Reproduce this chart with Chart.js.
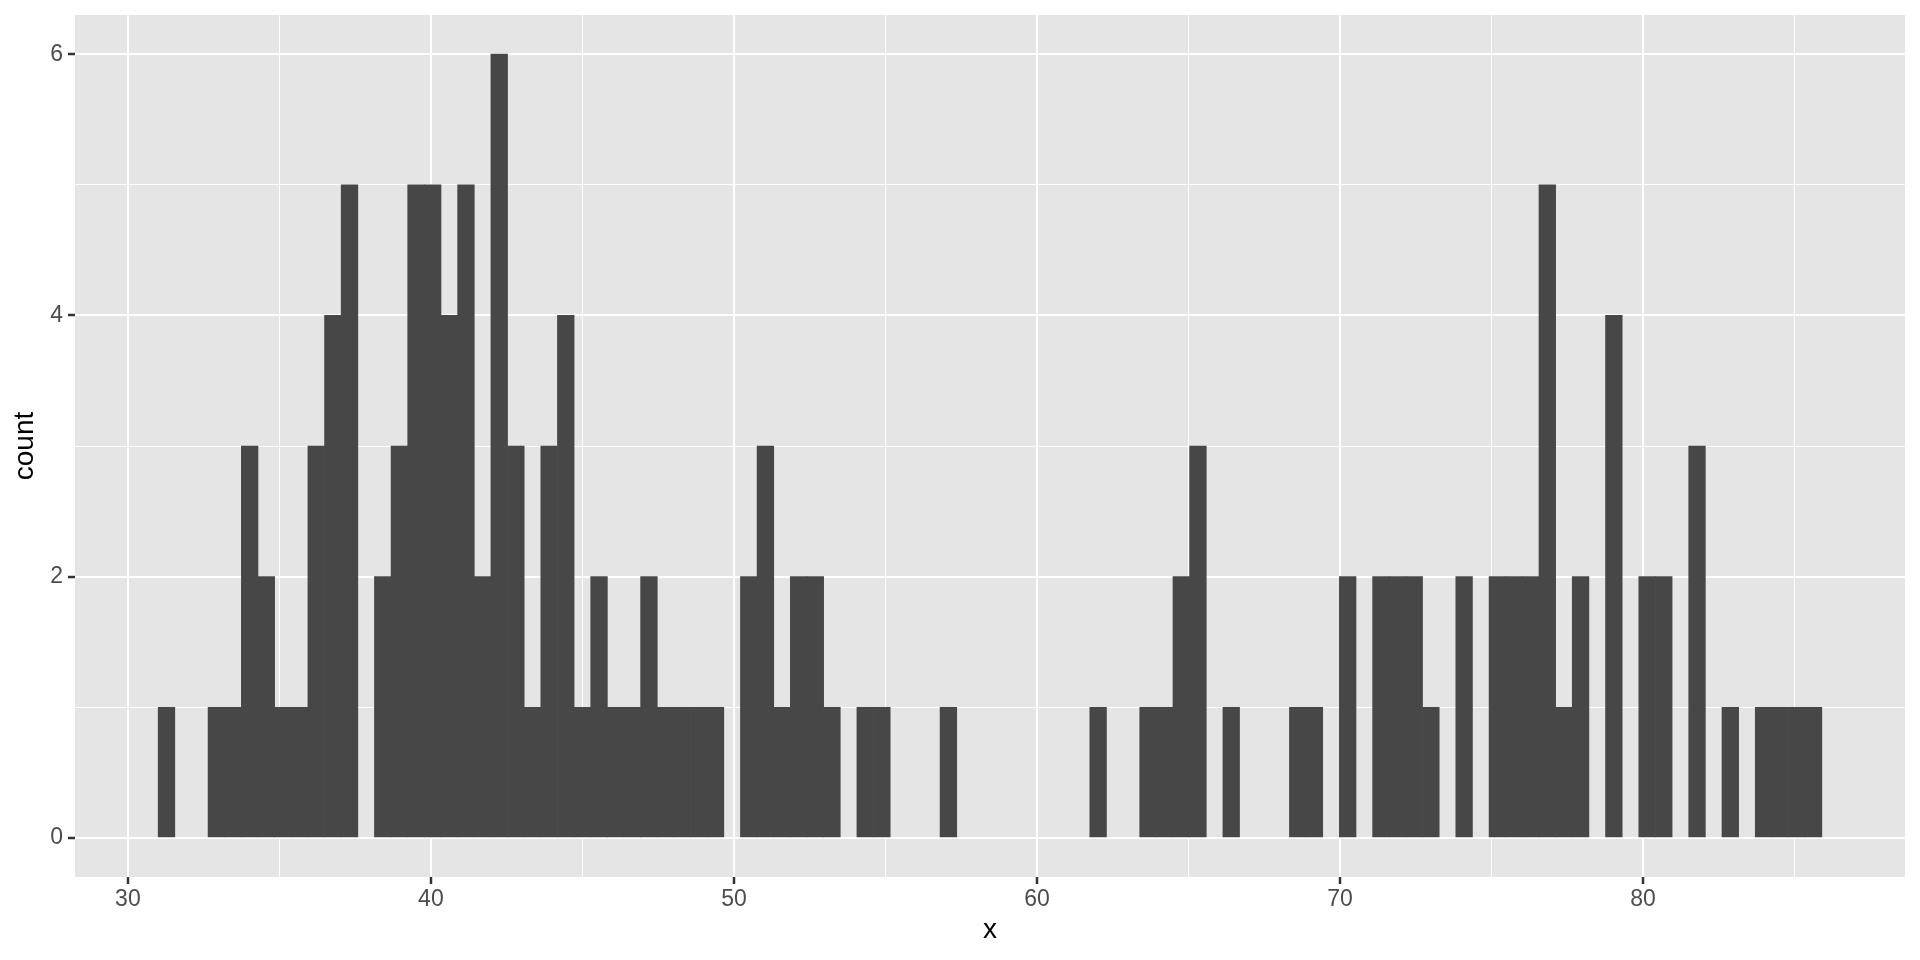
<!DOCTYPE html>
<html>
<head>
<meta charset="utf-8">
<script src="https://cdn.jsdelivr.net/npm/chart.js@4/dist/chart.umd.min.js"></script>
<style>
  html, body { margin: 0; padding: 0; background: #ffffff; }
  canvas { display: block; }
</style>
</head>
<body>
<canvas id="histChart" width="1920" height="960"></canvas>
<script>
// Histogram bins: left edge of the first bin and bin width (x units)
const binStart = 31.0;
const binWidth = 0.549;

// Counts per bin (100 bins)
const counts = [
  1, 0, 0, 1, 1, 3, 2, 1, 1, 3,
  4, 5, 0, 2, 3, 5, 5, 4, 5, 2,
  6, 3, 1, 3, 4, 1, 2, 1, 1, 2,
  1, 1, 1, 1, 0, 2, 3, 1, 2, 2,
  1, 0, 1, 1, 0, 0, 0, 1, 0, 0,
  0, 0, 0, 0, 0, 0, 1, 0, 0, 1,
  1, 2, 3, 0, 1, 0, 0, 0, 1, 1,
  0, 2, 0, 2, 2, 2, 1, 0, 2, 0,
  2, 2, 2, 5, 1, 2, 0, 4, 0, 2,
  2, 0, 3, 0, 1, 0, 1, 1, 1, 1
];

// Axis ticks: major ones get labels, minor ones only a grid line
const xMajorTicks = [30, 40, 50, 60, 70, 80];
const xMinorTicks = [35, 45, 55, 65, 75, 85];
const yMajorTicks = [0, 2, 4, 6];
const yMinorTicks = [1, 3, 5];

const xLimits = [28.255, 88.645];
const yLimits = [-0.3, 6.3];

const panelBg = '#E5E5E5';
const barColor = '#474747';

// bar data: one point per bin, placed at the bin centre
const barData = counts.map((c, i) => ({ x: binStart + (i + 0.5) * binWidth, y: c }));

const tickFont = { family: '"Liberation Sans", Arial, sans-serif', size: 23 };
const titleFont = { family: '"Liberation Sans", Arial, sans-serif', size: 28, lineHeight: 1 };

function isMajor(list, v) {
  return list.some(t => Math.abs(t - v) < 1e-9);
}

// grey panel behind the grid
const panelBackground = {
  id: 'panelBackground',
  beforeDraw(chart) {
    const { ctx, chartArea } = chart;
    ctx.save();
    ctx.fillStyle = panelBg;
    ctx.fillRect(chartArea.left, chartArea.top, chartArea.right - chartArea.left, chartArea.bottom - chartArea.top);
    ctx.restore();
  }
};

new Chart(document.getElementById('histChart'), {
  type: 'bar',
  data: {
    datasets: [{
      data: barData,
      // empty bins stay invisible
      backgroundColor: ctx => (ctx.raw && ctx.raw.y > 0) ? barColor : 'rgba(0,0,0,0)',
      borderWidth: 0,
      barPercentage: 1,
      categoryPercentage: 1
    }]
  },
  options: {
    responsive: false,
    animation: false,
    events: [],
    layout: { padding: { top: 15, right: 15, bottom: 0, left: 0 } },
    plugins: {
      legend: { display: false },
      tooltip: { enabled: false }
    },
    scales: {
      x: {
        type: 'linear',
        offset: false,
        min: xLimits[0],
        max: xLimits[1],
        afterBuildTicks: scale => {
          scale.ticks = xMajorTicks.concat(xMinorTicks).sort((a, b) => a - b).map(v => ({ value: v }));
        },
        afterFit: scale => {
          scale.height = 83;
          scale.paddingLeft = 0;
          scale.paddingRight = 0;
        },
        border: { display: false },
        grid: {
          offset: false,
          color: '#ffffff',
          lineWidth: ctx => isMajor(xMajorTicks, ctx.tick.value) ? 2 : 1,
          tickLength: 7,
          tickWidth: 2.5,
          tickColor: ctx => isMajor(xMajorTicks, ctx.tick.value) ? '#333333' : 'rgba(0,0,0,0)'
        },
        ticks: {
          autoSkip: false,
          maxRotation: 0,
          padding: 2,
          color: '#4D4D4D',
          font: tickFont,
          callback: v => isMajor(xMajorTicks, v) ? String(v) : ''
        },
        title: {
          display: true,
          text: 'x',
          color: '#000000',
          font: titleFont,
          padding: { top: 0, bottom: 16 }
        }
      },
      y: {
        type: 'linear',
        min: yLimits[0],
        max: yLimits[1],
        afterBuildTicks: scale => {
          scale.ticks = yMajorTicks.concat(yMinorTicks).sort((a, b) => a - b).map(v => ({ value: v }));
        },
        afterFit: scale => {
          scale.width = 75;
          scale.paddingTop = 0;
          scale.paddingBottom = 0;
        },
        border: { display: false },
        grid: {
          color: '#ffffff',
          lineWidth: ctx => isMajor(yMajorTicks, ctx.tick.value) ? 2 : 1,
          tickLength: 7,
          tickWidth: 2.5,
          tickColor: ctx => isMajor(yMajorTicks, ctx.tick.value) ? '#333333' : 'rgba(0,0,0,0)'
        },
        ticks: {
          autoSkip: false,
          padding: 5,
          color: '#4D4D4D',
          font: tickFont,
          callback: v => isMajor(yMajorTicks, v) ? String(v) : ''
        },
        title: {
          display: true,
          text: 'count',
          color: '#000000',
          font: titleFont,
          padding: { top: 11, bottom: 0 }
        }
      }
    }
  },
  plugins: [panelBackground]
});
</script>
</body>
</html>
